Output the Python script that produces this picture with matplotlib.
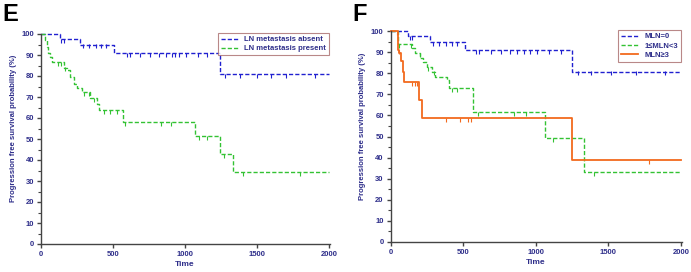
import matplotlib
matplotlib.use("Agg")
import matplotlib.pyplot as plt
import numpy as np

plt.rcParams['font.family'] = ['Liberation Sans', 'DejaVu Sans']

# ---- Panel E data ----
e_absent_t = [0, 129, 268, 509, 1246, 2000]
e_absent_s = [100, 97.5, 95.0, 91.0, 81.0, 81.0]
e_absent_cens = [140, 160, 290, 330, 380, 420, 450, 600, 620, 690, 760, 820, 870, 910, 930, 960, 1010, 1090, 1150, 1280, 1380, 1500, 1600, 1700, 1900]

e_present_t = [0, 28, 40, 52, 64, 76, 157, 180, 203, 227, 250, 284, 342, 388, 400, 569, 1066, 1246, 1336, 2000]
e_present_s = [100, 97.0, 94.0, 91.0, 89.0, 86.7, 84.0, 82.7, 79.5, 76.0, 74.5, 72.4, 69.7, 66.8, 63.6, 58.2, 51.2, 42.9, 34.2, 34.2]
e_present_cens = [120, 140, 170, 300, 330, 370, 440, 480, 530, 580, 830, 900, 1100, 1150, 1270, 1400, 1800]

# ---- Panel F data ----
f_mln0_t = [0, 122, 271, 512, 1251, 2000]
f_mln0_s = [100, 97.6, 94.6, 91.0, 80.8, 80.8]
f_mln0_cens = [130, 150, 290, 330, 380, 420, 460, 590, 610, 690, 760, 820, 870, 920, 960, 1010, 1090, 1170, 1290, 1380, 1520, 1690, 1890]

f_mid_t = [0, 41, 53, 145, 168, 202, 225, 248, 282, 305, 386, 402, 569, 1063, 1334, 2000]
f_mid_s = [100, 100, 93.7, 91.8, 89.4, 87.0, 85.5, 83.0, 80.8, 78.4, 76.8, 72.9, 61.4, 49.2, 33.0, 33.0]
f_mid_cens = [60, 140, 200, 260, 300, 420, 460, 600, 850, 930, 1120, 1400]

f_high_t = [0, 30, 48, 60, 71, 83, 92, 195, 218, 1251, 2000]
f_high_s = [100, 100, 91.0, 89.4, 86.0, 80.8, 75.7, 67.4, 58.7, 39.0, 39.0]
f_high_cens = [40, 55, 150, 170, 180, 380, 480, 530, 550, 1780]

BLUE = '#2020d0'
GREEN = '#33c233'
ORANGE = '#f26a1e'
NAVY = '#2e2e8a'


def step_value(t, s, x):
    idx = np.searchsorted(t, x, side='right') - 1
    return np.asarray(s)[idx]


def draw_curve(ax, t, s, cens, color, ls, lw, label):
    ax.step(t, s, where='post', color=color, linestyle=ls, linewidth=lw,
            label=label, clip_on=False, dashes=(3, 1.5) if ls == '--' else (None, None))
    cy = step_value(t, s, np.array(cens))
    ax.plot(cens, cy - 0.9, linestyle='none', marker='|', markersize=3.2,
            markeredgewidth=0.8, color=color, clip_on=False)


def style_axes(ax):
    ax.set_xlim(0, 2000)
    ax.set_ylim(0, 100)
    ax.set_xticks([0, 500, 1000, 1500, 2000])
    ax.set_yticks(np.arange(0, 101, 10))
    ax.set_yticks(np.arange(5, 100, 10), minor=True)
    for sp in ['top', 'right']:
        ax.spines[sp].set_visible(False)
    for sp in ['left', 'bottom']:
        ax.spines[sp].set_color('#444444')
        ax.spines[sp].set_linewidth(1.0)
    ax.spines['bottom'].set_bounds(0, 2010)
    ax.tick_params(axis='both', which='major', direction='out', length=3, width=1,
                   color='#444444', labelsize=5.5, labelcolor=NAVY, pad=2)
    ax.tick_params(axis='y', which='minor', direction='out', length=2, width=0.8,
                   color='#444444')
    for lab in ax.get_xticklabels() + ax.get_yticklabels():
        lab.set_fontweight('bold')
    ax.set_xlabel('Time', fontsize=6, color=NAVY, fontweight='bold', labelpad=2)
    ax.set_ylabel('Progression free survival probability (%)', fontsize=5.5,
                  color=NAVY, fontweight='bold', labelpad=3)
    ax.yaxis.set_label_coords(-0.085, 0.55)


fig = plt.figure(figsize=(6.91, 2.72), dpi=100)

axE = fig.add_axes([41 / 691, 1 - 244 / 272, 288 / 691, 210 / 272])
draw_curve(axE, e_absent_t, e_absent_s, e_absent_cens, BLUE, '--', 1.0, 'LN metastasis absent')
draw_curve(axE, e_present_t, e_present_s, e_present_cens, GREEN, '--', 1.0, 'LN metastasis present')
style_axes(axE)
legE = axE.legend(loc='upper right', bbox_to_anchor=(1.0, 1.005), fontsize=5.5,
                  frameon=True, fancybox=False, handlelength=2.2, handletextpad=0.8,
                  borderpad=0.4, labelspacing=0.2, borderaxespad=0)
legE.get_frame().set_edgecolor('#a86a6a')
legE.get_frame().set_linewidth(0.8)
for txt in legE.get_texts():
    txt.set_color(NAVY)
    txt.set_fontweight('bold')
fig.text(2 / 691, 1 - 3 / 272, 'E', fontsize=17, fontweight='bold', va='top', ha='left')

axF = fig.add_axes([390.7 / 691, 1 - 242 / 272, 290.3 / 691, 211 / 272])
draw_curve(axF, f_mln0_t, f_mln0_s, f_mln0_cens, BLUE, '--', 1.0, 'MLN=0')
draw_curve(axF, f_mid_t, f_mid_s, f_mid_cens, GREEN, '--', 1.0, '1≤MLN<3')
draw_curve(axF, f_high_t, f_high_s, f_high_cens, ORANGE, '-', 1.3, 'MLN≥3')
style_axes(axF)
legF = axF.legend(loc='upper right', bbox_to_anchor=(1.0, 1.005), fontsize=5.5,
                  frameon=True, fancybox=False, handlelength=2.2, handletextpad=0.8,
                  borderpad=0.4, labelspacing=0.25, borderaxespad=0)
legF.get_frame().set_edgecolor('#a86a6a')
legF.get_frame().set_linewidth(0.8)
for txt in legF.get_texts():
    txt.set_color(NAVY)
    txt.set_fontweight('bold')
fig.text(352 / 691, 1 - 3 / 272, 'F', fontsize=17, fontweight='bold', va='top', ha='left')

fig.savefig('out.png', dpi=100)
